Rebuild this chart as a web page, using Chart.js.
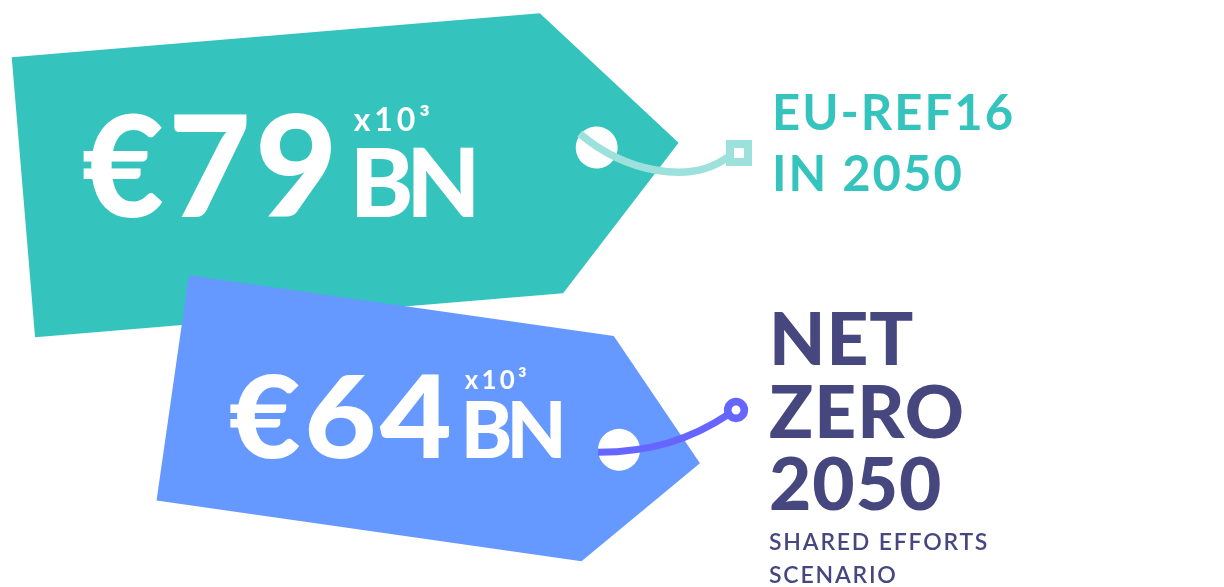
<!DOCTYPE html>
<html><head><meta charset="utf-8">
<script src="https://cdn.jsdelivr.net/npm/chart.js@4.4.1/dist/chart.umd.min.js"></script>
<style>html,body{margin:0;padding:0;background:#fff;overflow:hidden}#wrap{width:1224px;height:587px;position:relative}</style>
</head><body><div id="wrap"><canvas id="c"></canvas></div>
<script>
// ---- data ----
const categories = [['EU-REF16', 'IN 2050'], ['NET', 'ZERO', '2050']];
const subtitles = [[], ['SHARED EFFORTS', 'SCENARIO']];
const values = [79, 64];
const currency = '€';
const units = ['BN', 'BN'];
const multipliers = ['x10³', 'x10³'];

// ---- styles / layout ----
const tagColors = ['#35C3BD', '#6699FF'];
const cordColors = ['#9DE1DD', '#6666FF'];
const labelColors = ['#35C3BD', '#47477F'];
const tagRotation = [-4.76, 8.15];
const tagShift = [0, 149.3];
const textOffset = [[58.3, 20], [56.1, 70.5]];
const mainSpacing = [4, 3];
const mainStretch = [1.01, 1.09];
const unitOffset = [271, 235];
const FONT = 'Lato, "Open Sans", sans-serif';

const tagPlugin = {
  id: 'tags',
  afterDatasetsDraw(chart) {
    const ctx = chart.ctx;
    const meta = chart.getDatasetMeta(0);
    const holes = [];
    meta.data.forEach((bar, i) => {
      const p = bar.getProps(['x', 'y', 'base'], true);
      const L = p.x - p.base;
      const H = L * 0.4274, T = L * 0.194;
      const ox = p.base + tagShift[i], oy = p.y;
      const a = tagRotation[i] * Math.PI / 180;
      ctx.save();
      ctx.translate(ox, oy);
      ctx.rotate(a);
      ctx.beginPath();
      ctx.moveTo(0, -H / 2);
      ctx.lineTo(L - T, -H / 2);
      ctx.lineTo(L, 0);
      ctx.lineTo(L - T, H / 2);
      ctx.lineTo(0, H / 2);
      ctx.closePath();
      ctx.fillStyle = tagColors[i];
      ctx.fill();
      const hx = L - 82, hy = -2;
      ctx.beginPath();
      ctx.arc(hx, hy, 21, 0, Math.PI * 2);
      ctx.fillStyle = '#fff';
      ctx.fill();
      ctx.restore();
      holes.push([ox + hx * Math.cos(a) - hy * Math.sin(a), oy + hx * Math.sin(a) + hy * Math.cos(a)]);

      // value text (upright)
      const tx = ox + textOffset[i][0], ty = oy + textOffset[i][1];
      ctx.save();
      ctx.fillStyle = '#fff';
      ctx.textBaseline = 'alphabetic';
      ctx.textAlign = 'left';
      const main = currency + values[i];
      ctx.save();
      ctx.translate(tx, ty);
      ctx.scale(mainStretch[i], 1);
      ctx.font = '900 ' + (L * 0.2145).toFixed(1) + 'px ' + FONT;
      ctx.letterSpacing = mainSpacing[i] + 'px';
      ctx.fillText(main, 0, 0);
      ctx.restore();
      const bx = tx + unitOffset[i];
      ctx.font = '900 ' + (L * 0.146).toFixed(1) + 'px ' + FONT;
      ctx.letterSpacing = (-L * 0.011).toFixed(1) + 'px';
      ctx.fillText(units[i], bx - 3, ty);
      ctx.font = '700 ' + (L * 0.0487).toFixed(1) + 'px ' + FONT;
      ctx.letterSpacing = (L * 0.006).toFixed(1) + 'px';
      ctx.fillText(multipliers[i], bx + 1, ty - L * 0.131);
      ctx.restore();
    });

    // cords and markers
    ctx.save();
    ctx.lineCap = 'butt';
    let h = holes[0];
    ctx.strokeStyle = cordColors[0];
    ctx.lineWidth = 7.5;
    ctx.beginPath();
    ctx.moveTo(h[0] - 17, h[1] - 14);
    ctx.bezierCurveTo(625, 172, 690, 185, 728, 157);
    ctx.stroke();
    ctx.lineWidth = 8;
    ctx.fillStyle = '#fff';
    ctx.fillRect(730, 144, 18, 18);
    ctx.strokeRect(730, 144, 18, 18);
    h = holes[1];
    ctx.strokeStyle = cordColors[1];
    ctx.lineWidth = 7;
    ctx.beginPath();
    ctx.moveTo(h[0] - 21, h[1] + 2.5);
    ctx.bezierCurveTo(650, 452, 690, 440, 729, 414);
    ctx.stroke();
    ctx.beginPath();
    ctx.arc(736, 410, 8.3, 0, Math.PI * 2);
    ctx.fillStyle = '#fff';
    ctx.fill();
    ctx.lineWidth = 7.7;
    ctx.stroke();
    ctx.restore();

    // category labels
    ctx.save();
    ctx.textAlign = 'left';
    ctx.textBaseline = 'alphabetic';
    const labs = chart.data.labels;
    ctx.fillStyle = labelColors[0];
    ctx.font = '700 49px ' + FONT;
    ctx.letterSpacing = '2px';
    labs[0].forEach((t, k) => ctx.fillText(t, 772, 130 + k * 61));
    ctx.fillStyle = labelColors[1];
    ctx.font = '900 73px ' + FONT;
    ctx.letterSpacing = '1px';
    labs[1].forEach((t, k) => ctx.fillText(t, 769, 365 + k * 72.5));
    ctx.font = '600 23px ' + FONT;
    ctx.letterSpacing = '1.8px';
    subtitles[1].forEach((t, k) => ctx.fillText(t, 769, 550 + k * 33));
    ctx.restore();
  }
};

new Chart(document.getElementById('c'), {
  type: 'bar',
  data: {
    labels: categories,
    datasets: [{ data: values, backgroundColor: 'rgba(0,0,0,0)', borderWidth: 0 }]
  },
  options: {
    indexAxis: 'y',
    responsive: true,
    maintainAspectRatio: false,
    animation: false,
    layout: { padding: { left: 23.4, right: 368.4, top: 102, bottom: 103.9 } },
    scales: {
      x: { display: false, min: 0, max: 100 },
      y: { display: false }
    },
    plugins: { legend: { display: false }, tooltip: { enabled: false } }
  },
  plugins: [tagPlugin]
});
</script>
</body></html>
